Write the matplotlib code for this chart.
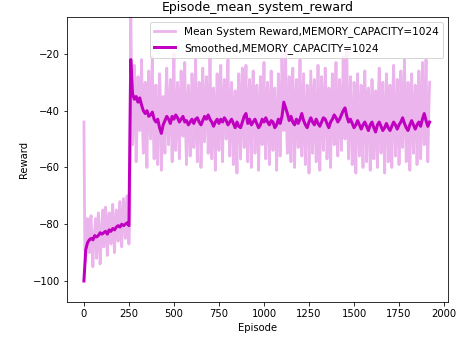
import numpy as np
import matplotlib
matplotlib.use("Agg")
import matplotlib.pyplot as plt

# ---- data ----
# raw reward, one value per 5 episodes
raw_phase1 = [-44, -88, -93, -80, -78, -86, -90, -79, -77, -89, -95, -84, -82, -78, -92, -85,
              -76, -83, -94, -87, -79, -75, -88, -81, -74, -84, -91, -80, -76, -82, -87, -77,
              -73, -84, -90, -79, -75, -82, -86, -76, -72, -80, -88, -78, -71, -79, -85, -74,
              -70, -80, -87, -78]
raw_phase2 = [-2, -34, -52, -41, -24, -36, -58, -45, -28, -33, -47, -39, -22, -44, -55, -37,
              -30, -48, -60, -35, -26, -42, -50, -32, -21, -46, -57, -38, -31, -49, -59, -40,
              -27, -36, -61, -47, -35, -43, -55, -34, -25, -45, -52, -38, -29, -41, -58, -33,
              -20, -47, -54, -39, -30, -44, -57, -36, -26, -42, -49, -35, -23, -48, -59, -37,
              -31, -45, -56, -40, -27, -34, -53, -46, -22, -39, -58, -43, -30, -36, -60, -47,
              -25, -38, -51, -42, -28, -35, -55, -44, -21, -40, -57, -33, -32, -48, -61, -39,
              -27, -45, -54, -37, -24, -43, -58, -36, -29, -41, -50, -34, -22, -46, -56, -38,
              -30, -44, -59, -40, -33, -47, -62, -36, -27, -42, -57, -35, -25, -45, -53, -39,
              -24, -48, -58, -37, -29, -43, -60, -34, -26, -41, -55, -46, -31, -38, -61, -44,
              -28, -36, -52, -40, -23, -47, -57, -35, -30, -42, -59, -39, -26, -45, -54, -37,
              -32, -43, -61, -48, -27, -36, -56, -41, -21, -34, -47, -38, -19, -44, -55, -40,
              -28, -46, -58, -35, -25, -42, -60, -39, -29, -45, -53, -37, -22, -43, -56, -36,
              -27, -47, -59, -41, -31, -38, -62, -44, -26, -40, -55, -35, -29, -46, -58, -42,
              -24, -39, -61, -45, -28, -37, -54, -43, -25, -36, -57, -48, -32, -41, -60, -38,
              -27, -44, -52, -35, -23, -40, -56, -46, -29, -37, -54, -42, -21, -39, -50, -33,
              -19, -45, -57, -38, -28, -43, -59, -47, -30, -36, -62, -41, -27, -44, -56, -39,
              -31, -46, -60, -37, -26, -42, -58, -35, -32, -45, -61, -40, -29, -38, -57, -44,
              -33, -47, -60, -36, -25, -41, -55, -39, -30, -46, -62, -43, -27, -37, -58, -45,
              -31, -40, -60, -35, -24, -42, -56, -48, -29, -38, -59, -44, -26, -36, -53, -41,
              -22, -39, -58, -46, -30, -37, -61, -43, -27, -40, -55, -45, -31, -38, -59, -42,
              -26, -36, -57, -44, -23, -40, -52, -37, -22, -45, -58, -41, -30]
raw_reward = raw_phase1 + raw_phase2
raw_step = 5

# smoothed reward, one value per 10 episodes
smoothed = [-100, -89, -86.5, -85.5, -85, -85.5, -84, -84.5, -84, -83, -83.5, -83, -82.5,
            -83.5, -82, -82.5, -81.5, -82, -81, -80.5, -81, -80, -80.5, -80, -79.5, -80.5,
            -22, -34, -36, -35, -37, -35.5, -38, -40, -41, -40, -42, -41.5, -40.5, -43,
            -44, -43, -46, -48, -45, -43.5, -42, -43, -44.5, -42, -43, -41.5, -42.5, -44,
            -43, -42, -44, -43.5, -45, -44, -43, -44.5, -43, -42.5, -44, -45, -43.5, -42,
            -43, -41.5, -43, -44, -45.5, -44, -43, -44.5, -43, -44, -42.5, -43.5, -45, -44,
            -43, -44.5, -46, -44, -45.5, -46, -44, -42, -41, -44.5, -43, -45, -44, -43,
            -44.5, -46, -45, -43, -44, -42.5, -44, -45, -43.5, -44, -46, -45, -43, -44.5,
            -42, -37, -39, -41, -43.5, -42, -44, -45, -43, -44.5, -43, -41, -43.5, -45,
            -46, -44, -42.5, -44, -45, -43, -44.5, -45.5, -44, -42.5, -43, -44.5, -46, -44,
            -43, -41.5, -42.5, -44, -43, -41.5, -40, -39, -42, -44, -43, -44.5, -46, -45,
            -43.5, -45, -46.5, -45, -44, -45.5, -47, -45, -44, -46, -47.5, -45, -44, -45.5,
            -47, -46, -44.5, -46, -47, -45.5, -44, -45, -46.5, -45, -44, -42.5, -44.5, -46,
            -47, -45, -43.5, -45, -46.5, -45, -44, -45.5, -43, -41, -43.5, -45.5, -44]
smooth_step = 10

episodes_raw = np.arange(len(raw_reward)) * raw_step
episodes_smooth = np.arange(len(smoothed)) * smooth_step

xticks = [0, 250, 500, 750, 1000, 1250, 1500, 1750, 2000]
yticks = [-100, -80, -60, -40, -20]

# ---- figure ----
dpi = 72
fig = plt.figure(figsize=(459 / dpi, 339 / dpi), dpi=dpi)
ax = fig.add_axes([67 / 459, 1 - 302 / 339, (448 - 67) / 459, (302 - 17) / 339])

ax.plot(episodes_raw, raw_reward, color='#ECB4EC', lw=2.8,
        label='Mean System Reward,MEMORY_CAPACITY=1024')
ax.plot(episodes_smooth, smoothed, color='#C000C0', lw=3.0,
        label='Smoothed,MEMORY_CAPACITY=1024')

ax.set_xlim(-94, 2022)
ax.set_ylim(-107.4, -7)
ax.set_xticks(xticks)
ax.set_yticks(yticks)
ax.tick_params(labelsize=10)
ax.set_xlabel('Episode', fontsize=10)
ax.set_ylabel('Reward', fontsize=10)
ax.set_title('Episode_mean_system_reward', fontsize=12.5)
ax.legend(loc='upper right', fontsize=10.5)

fig.savefig('out.png', dpi=dpi)
